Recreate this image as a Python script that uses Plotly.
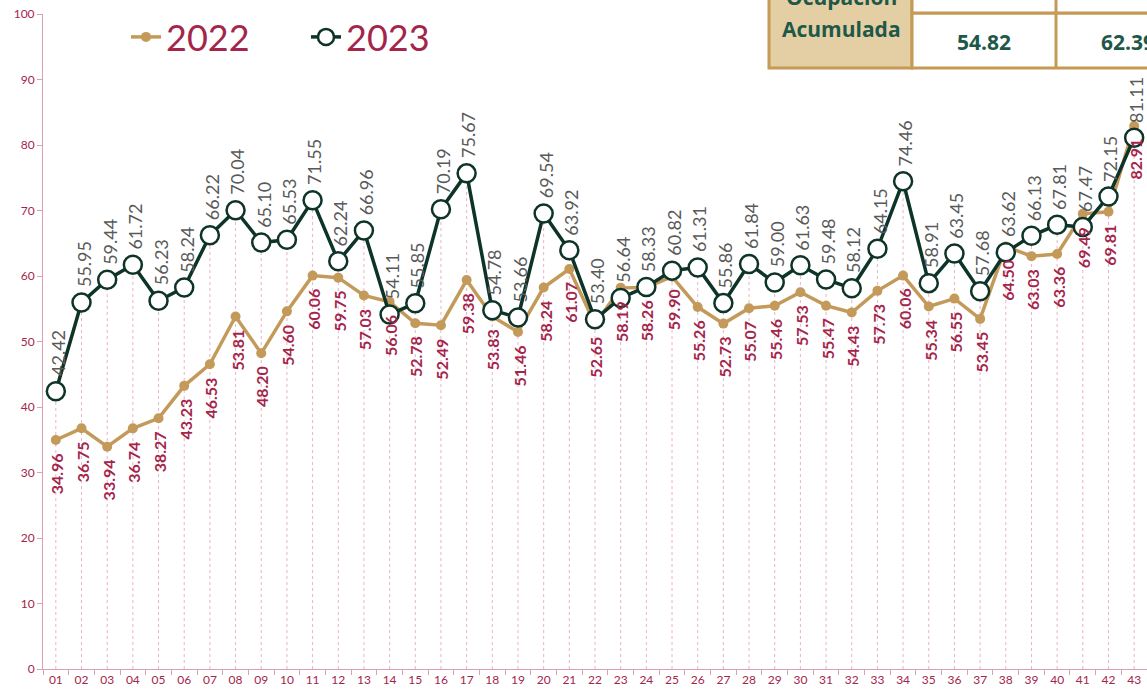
import plotly.graph_objects as go

weeks = [f"{i:02d}" for i in range(1, 44)]
ocup_2022 = [34.96, 36.75, 33.94, 36.74, 38.27, 43.23, 46.53, 53.81, 48.20, 54.60,
             60.06, 59.75, 57.03, 56.06, 52.78, 52.49, 59.38, 53.83, 51.46, 58.24,
             61.07, 52.65, 58.19, 58.26, 59.90, 55.26, 52.73, 55.07, 55.46, 57.53,
             55.47, 54.43, 57.73, 60.06, 55.34, 56.55, 53.45, 64.50, 63.03, 63.36,
             69.49, 69.81, 82.91]
ocup_2023 = [42.42, 55.95, 59.44, 61.72, 56.23, 58.24, 66.22, 70.04, 65.10, 65.53,
             71.55, 62.24, 66.96, 54.11, 55.85, 70.19, 75.67, 54.78, 53.66, 69.54,
             63.92, 53.40, 56.64, 58.33, 60.82, 61.31, 55.86, 61.84, 59.00, 61.63,
             59.48, 58.12, 64.15, 74.46, 58.91, 63.45, 57.68, 63.62, 66.13, 67.81,
             67.47, 72.15, 81.11]
acum_values = [54.82, 62.39]

TAN = "#C49A5A"
GREEN = "#0E3328"
CRIMSON = "#A4254B"
PINK = "#D9A1B3"
TEXTGREEN = "#1E5849"

W, H = 1147, 696
ML, MR, MT, MB = 43, 0, 14, 27
PW, PH = W - ML - MR, H - MT - MB

def px(x):
    return (x - ML) / PW

def py(y):
    return (H - MB - y) / PH

fig = go.Figure()

# drop lines
dx, dy = [], []
for w, a, b in zip(weeks, ocup_2022, ocup_2023):
    dx += [w, w, None]
    dy += [0, max(a, b), None]
fig.add_trace(go.Scatter(x=dx, y=dy, mode="lines", showlegend=False, hoverinfo="skip",
                         line=dict(color="#EAB3C4", width=1, dash="dot")))

fig.add_trace(go.Scatter(x=weeks, y=ocup_2022, mode="lines+markers", name="2022",
                         line=dict(color=TAN, width=3.5),
                         marker=dict(color=TAN, size=10)))
fig.add_trace(go.Scatter(x=weeks, y=ocup_2023, mode="lines+markers", name="2023",
                         line=dict(color=GREEN, width=3.5),
                         marker=dict(color="white", size=18, line=dict(color=GREEN, width=2.5)),
                         cliponaxis=False))

for i, v in enumerate(ocup_2022):
    fig.add_annotation(x=i, y=v, text=f"<b>{v:.2f}</b>", textangle=-90, showarrow=False,
                       yanchor="top", yshift=-11, xshift=1,
                       font=dict(family="Lato", size=16, color=CRIMSON))
for i, v in enumerate(ocup_2023):
    fig.add_annotation(x=i, y=v, text=f"{v:.2f}", textangle=-90, showarrow=False,
                       yanchor="bottom", yshift=13, xshift=2,
                       font=dict(family="Lato", size=18, color="#595959"))

# table (Ocupación Acumulada)
shapes = []
border = dict(color="#C49A55", width=3)
shapes.append(dict(type="rect", xref="paper", yref="paper", x0=px(769), x1=px(912),
                   y0=py(68), y1=py(-40), fillcolor="#E4CFA4", line=border, layer="above"))
shapes.append(dict(type="rect", xref="paper", yref="paper", x0=px(912), x1=px(1200),
                   y0=py(68), y1=py(13), fillcolor="white", line=border, layer="above"))
shapes.append(dict(type="rect", xref="paper", yref="paper", x0=px(912), x1=px(1200),
                   y0=py(13), y1=py(-40), fillcolor="white", line=border, layer="above"))
shapes.append(dict(type="line", xref="paper", yref="paper", x0=px(1056), x1=px(1056),
                   y0=py(68), y1=py(-40), line=border, layer="above"))
fig.update_layout(shapes=shapes)

tfont = dict(family="Open Sans", size=21, color=TEXTGREEN)
fig.add_annotation(xref="paper", yref="paper", x=px(841), y=py(-3), text="<b>Ocupación</b>",
                   xanchor="center", yanchor="middle", showarrow=False, font=tfont)
fig.add_annotation(xref="paper", yref="paper", x=px(841), y=py(29), text="<b>Acumulada</b>",
                   xanchor="center", yanchor="middle", showarrow=False, font=tfont)
for xc, v in zip([984, 1128], acum_values):
    fig.add_annotation(xref="paper", yref="paper", x=px(xc), y=py(42), text=f"<b>{v:.2f}</b>",
                       xanchor="center", yanchor="middle", showarrow=False, font=tfont)

fig.update_layout(
    width=W, height=H,
    margin=dict(l=ML, r=MR, t=MT, b=MB, autoexpand=False),
    plot_bgcolor="white", paper_bgcolor="white",
    showlegend=True,
    legend=dict(orientation="h", x=px(126), y=py(37), xanchor="left", yanchor="middle",
                font=dict(family="Lato", size=36, color=CRIMSON), bgcolor="rgba(0,0,0,0)",
                itemwidth=30, entrywidth=135, tracegroupgap=0),
    xaxis=dict(type="category", range=[-0.5, 42.5], showgrid=False, showline=True,
               automargin=False,
               linecolor=PINK, linewidth=1, ticks="outside", tickson="boundaries",
               ticklen=5, tickcolor=PINK, tickfont=dict(family="Lato", size=12, color=CRIMSON)),
    yaxis=dict(range=[0, 100], dtick=10, showgrid=False, showline=True, linecolor=PINK,
               automargin=False,
               linewidth=1, ticks="outside", ticklen=5, tickcolor=PINK, zeroline=False,
               tickfont=dict(family="Lato", size=12, color=CRIMSON)),
)

fig.write_html("out.html", config={"displayModeBar": False},
               post_script="document.body.style.margin='0';")
